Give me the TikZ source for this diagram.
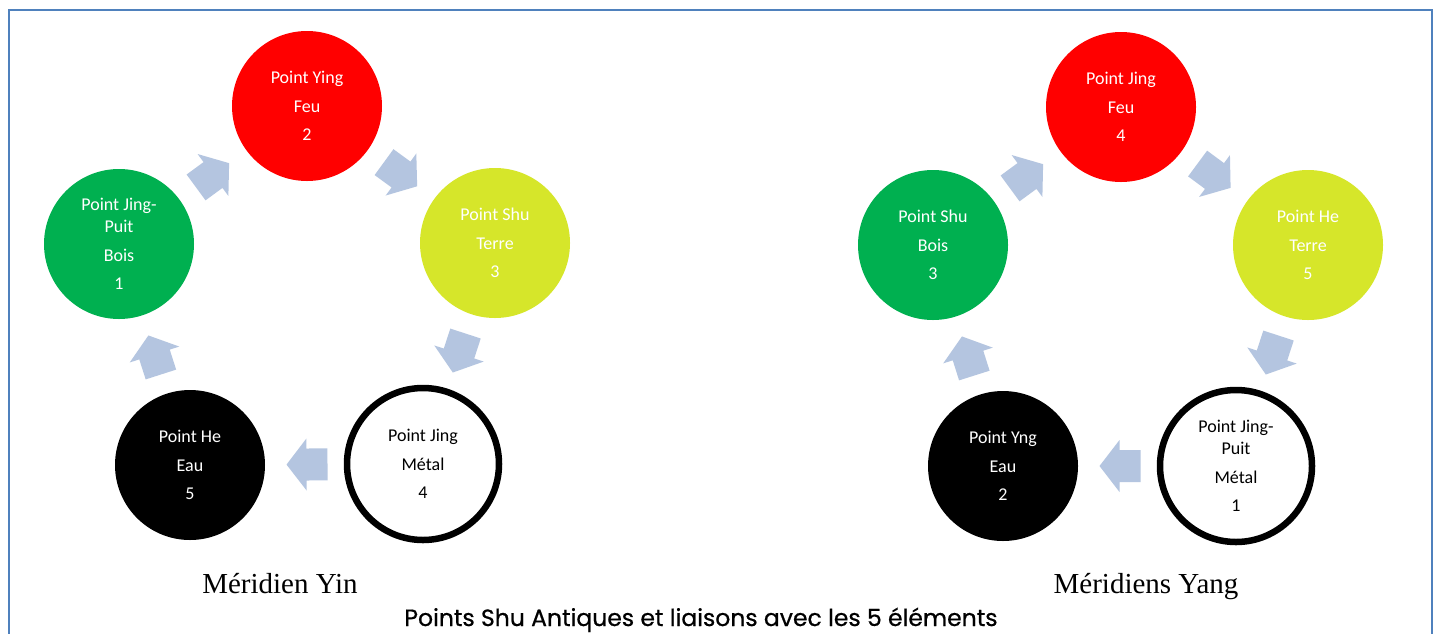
\documentclass[tikz,border=0pt]{standalone}
\usepackage{fontspec}
\setmainfont{Carlito}
\newfontfamily\serifA{Liberation Serif}
\newfontfamily\capfont[FakeBold=0.7]{Poppins}
\usetikzlibrary{calc}
\definecolor{framec}{RGB}{79,129,189}
\definecolor{arrowc}{RGB}{180,197,224}
\definecolor{yellowc}{RGB}{214,230,42}
\definecolor{greenc}{RGB}{0,176,80}
\definecolor{redc}{RGB}{255,0,0}
\newcommand\blockarr[2]{%
  \pgfmathanglebetweenpoints{\pgfpointanchor{#1}{center}}{\pgfpointanchor{#2}{center}}%
  \edef\arrang{\pgfmathresult}%
  \fill[arrowc, shift={($(#1)!0.5!(#2)$)}, rotate=\arrang]
    (-21,-16) -- (0,-16) -- (0,-26) -- (20,0) -- (0,26) -- (0,16) -- (-21,16) -- cycle;}
\tikzset{
  pt/.style={circle, minimum size=150pt, inner sep=0pt, align=center, text=white,
    font=\fontsize{18}{22}\selectfont},
  wpt/.style={pt, draw=black, line width=6.5pt, minimum size=152pt, text=black},
  meridien/.style={anchor=base, font=\serifA\fontsize{29}{34}\selectfont},
}
\begin{document}
\begin{tikzpicture}[x=1pt, y=-1pt]
\path[use as bounding box, clip] (0,0) rectangle (1440,633);
\fill[white] (0,0) rectangle (1440,633);
\draw[framec, line width=2.3pt] (9,10) rectangle (1432,680);
% left: Meridien Yin
\node[pt, fill=greenc] (lg) at (119,244) {Point Jing-\\Puit\\[6.5pt]Bois\\[6.5pt]1};
\node[pt, fill=redc] (lr) at (307,106) {Point Ying\\[6.5pt]Feu\\[6.5pt]2};
\node[pt, fill=yellowc] (ly) at (495,243) {Point Shu\\[6.5pt]Terre\\[6.5pt]3};
\node[wpt, fill=white] (lw) at (423,464) {Point Jing\\[6.5pt]M\'etal\\[6.5pt]4};
\node[pt, fill=black] (lb) at (190,465) {Point He\\[6.5pt]Eau\\[6.5pt]5};
\blockarr{lg}{lr}
\blockarr{lr}{ly}
\blockarr{ly}{lw}
\blockarr{lw}{lb}
\blockarr{lb}{lg}
% right: Meridiens Yang
\node[pt, fill=greenc] (rg) at (933,245) {Point Shu\\[6.5pt]Bois\\[6.5pt]3};
\node[pt, fill=redc] (rr) at (1121,107) {Point Jing\\[6.5pt]Feu\\[6.5pt]4};
\node[pt, fill=yellowc] (ry) at (1308,245) {Point He\\[6.5pt]Terre\\[6.5pt]5};
\node[wpt, fill=white] (rw) at (1236,466) {Point Jing-\\Puit\\[6.5pt]M\'etal\\[6.5pt]1};
\node[pt, fill=black] (rb) at (1003,466) {Point Yng\\[6.5pt]Eau\\[6.5pt]2};
\blockarr{rg}{rr}
\blockarr{rr}{ry}
\blockarr{ry}{rw}
\blockarr{rw}{rb}
\blockarr{rb}{rg}
% labels
\node[meridien] (tyin) at (280,593) {M\'eridien Yin};
\node[meridien] (tyang) at (1146,593) {M\'eridiens Yang};
\node[anchor=base, font=\capfont\fontsize{23.5}{28}\selectfont] (cap) at (701,626) {Points Shu Antiques et liaisons avec les 5 \'el\'ements};
\end{tikzpicture}
\end{document}
